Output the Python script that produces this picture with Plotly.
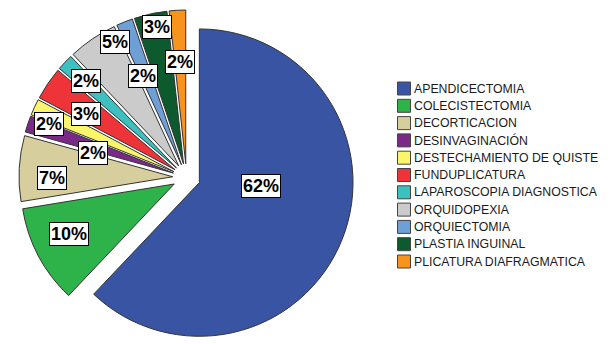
import math
import plotly.graph_objects as go

# ---- data ----
procedures = [
    "APENDICECTOMIA", "COLECISTECTOMIA", "DECORTICACION", "DESINVAGINACIÓN",
    "DESTECHAMIENTO DE QUISTE", "FUNDUPLICATURA", "LAPAROSCOPIA DIAGNOSTICA",
    "ORQUIDOPEXIA", "ORQUIECTOMIA", "PLASTIA INGUINAL", "PLICATURA DIAFRAGMATICA",
]
counts = [36, 6, 4, 1, 1, 2, 1, 3, 1, 2, 1]

# ---- style ----
colors = ["#3a54a4", "#2db34a", "#d6cf9d", "#7a2a86", "#fbf56b", "#ee3339",
          "#3cc0c0", "#cbcbcb", "#6e9fd6", "#0c5a2e", "#f7941e"]
PULL = 0.09
W, H = 611, 345
M_L, M_R, M_T, M_B = 0, 0, 10, 0
DOM_X = [0, 373 / 611]
# label placement: (angle nudge in degrees, radial fraction of radius)
label_nudge = [-14.9, 2.4, -3.5, -3.8, -3.5, -1.9, 0.3, 6.2, -1.4, 1.4, -0.1]
label_frac = [0.487, 0.847, 0.874, 0.63, 0.96, 0.774, 0.906, 1.0, 0.715, 1.0, 0.756]
# legend layout (pixels)
LEG_SYM_X = 404
LEG_TEXT_X = 413
LEG_Y0 = 88.5
LEG_STEP = 17.3
LEG_SYM = 13

fig = go.Figure(go.Pie(
    labels=procedures,
    values=counts,
    sort=False,
    direction="clockwise",
    rotation=0,
    pull=[PULL] * len(counts),
    marker=dict(colors=colors, line=dict(color="#333333", width=1)),
    textinfo="none",
    hoverinfo="label+percent",
    domain=dict(x=DOM_X, y=[0, 1]),
    showlegend=False,
))

# geometry of the pie in pixels (same rule plotly uses)
pw = W - M_L - M_R
ph = H - M_T - M_B
dw = pw * (DOM_X[1] - DOM_X[0])
dh = ph
r = min(dw, dh) / 2 / (1 + PULL)
cx = M_L + pw * (DOM_X[0] + DOM_X[1]) / 2
cy = M_T + ph / 2


def to_paper(px, py):
    return (px - M_L) / pw, (H - M_B - py) / ph


total = sum(counts)
cum = 0
for i, v in enumerate(counts):
    mid = (cum + v / 2) / total * 360 + label_nudge[i]
    cum += v
    a = math.radians(mid)
    px = cx + label_frac[i] * r * math.sin(a)
    py = cy - label_frac[i] * r * math.cos(a)
    pct = round(100 * v / total)
    x, y = to_paper(px, py)
    fig.add_annotation(
        x=x, y=y, xref="paper", yref="paper",
        text=f"<b>{pct}%</b>", showarrow=False,
        font=dict(family="Liberation Sans, Arial", size=18, color="#000000"),
        bgcolor="#ffffff", bordercolor="#000000", borderwidth=1, borderpad=1,
        xanchor="center", yanchor="middle",
    )

# legend (built from the category list and colours)
for i, (name, col) in enumerate(zip(procedures, colors)):
    yc = LEG_Y0 + i * LEG_STEP
    x0, y0 = to_paper(LEG_SYM_X - LEG_SYM / 2, yc + LEG_SYM / 2)
    x1, y1 = to_paper(LEG_SYM_X + LEG_SYM / 2, yc - LEG_SYM / 2)
    fig.add_shape(type="rect", xref="paper", yref="paper",
                  x0=x0, y0=y0, x1=x1, y1=y1,
                  fillcolor=col, line=dict(color="#444444", width=1))
    tx, ty = to_paper(LEG_TEXT_X, yc)
    fig.add_annotation(
        x=tx, y=ty, xref="paper", yref="paper", text=name, showarrow=False,
        font=dict(family="Liberation Sans, Arial", size=12.3, color="#1a1a1a"),
        xanchor="left", yanchor="middle", borderpad=0,
    )

fig.update_layout(
    width=W, height=H,
    margin=dict(l=M_L, r=M_R, t=M_T, b=M_B),
    paper_bgcolor="#ffffff",
    showlegend=False,
)

fig.write_html("out.html")
